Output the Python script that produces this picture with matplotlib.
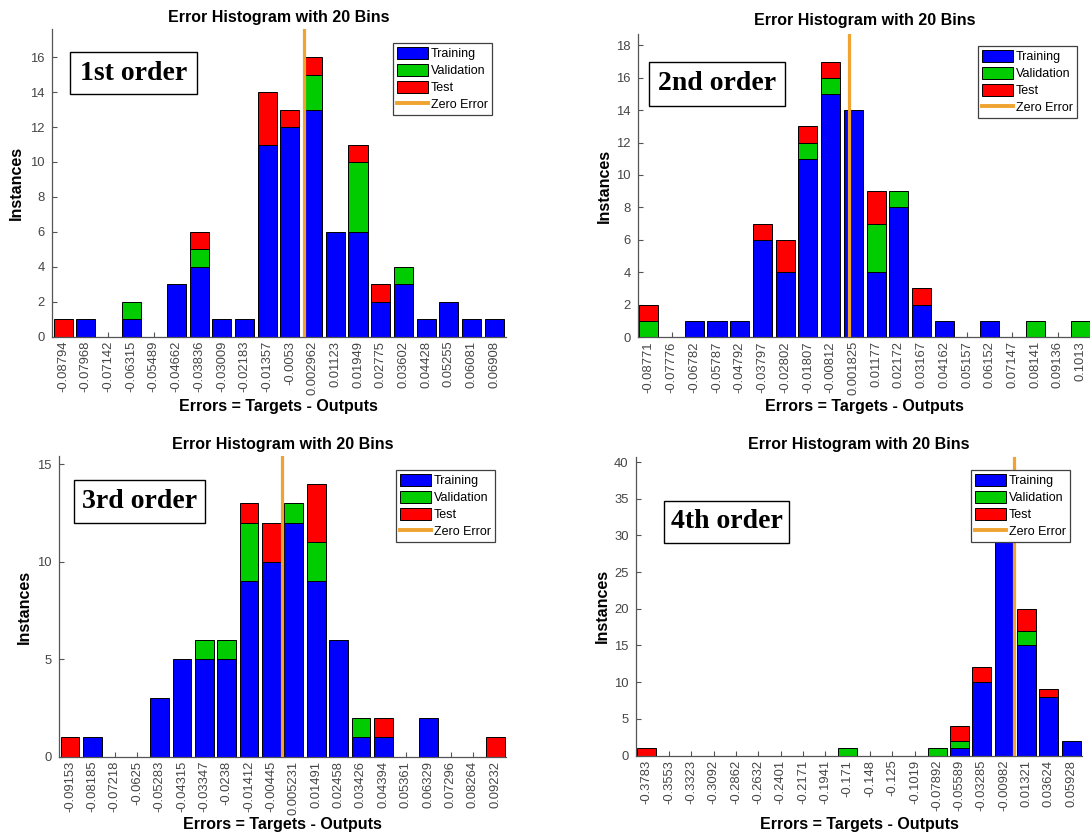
import matplotlib
matplotlib.use('Agg')
import matplotlib.pyplot as plt
from matplotlib.patches import Patch, Rectangle
from matplotlib.lines import Line2D
import numpy as np

plt.rcParams['font.family'] = ['Liberation Sans', 'DejaVu Sans']

# ---------------- data ----------------
p1_labels = ['-0.08794', '-0.07968', '-0.07142', '-0.06315', '-0.05489', '-0.04662', '-0.03836',
             '-0.03009', '-0.02183', '-0.01357', '-0.0053', '0.002962', '0.01123', '0.01949',
             '0.02775', '0.03602', '0.04428', '0.05255', '0.06081', '0.06908']
p1_train = [0, 1, 0, 1, 0, 3, 4, 1, 1, 11, 12, 13, 6, 6, 2, 3, 1, 2, 1, 1]
p1_val   = [0, 0, 0, 1, 0, 0, 1, 0, 0, 0, 0, 2, 0, 4, 0, 1, 0, 0, 0, 0]
p1_test  = [1, 0, 0, 0, 0, 0, 1, 0, 0, 3, 1, 1, 0, 1, 1, 0, 0, 0, 0, 0]

p2_labels = ['-0.08771', '-0.07776', '-0.06782', '-0.05787', '-0.04792', '-0.03797', '-0.02802',
             '-0.01807', '-0.00812', '0.001825', '0.01177', '0.02172', '0.03167', '0.04162',
             '0.05157', '0.06152', '0.07147', '0.08141', '0.09136', '0.1013']
p2_train = [0, 0, 1, 1, 1, 6, 4, 11, 15, 14, 4, 8, 2, 1, 0, 1, 0, 0, 0, 0]
p2_val   = [1, 0, 0, 0, 0, 0, 0, 1, 1, 0, 3, 1, 0, 0, 0, 0, 0, 1, 0, 1]
p2_test  = [1, 0, 0, 0, 0, 1, 2, 1, 1, 0, 2, 0, 1, 0, 0, 0, 0, 0, 0, 0]

p3_labels = ['-0.09153', '-0.08185', '-0.07218', '-0.0625', '-0.05283', '-0.04315', '-0.03347',
             '-0.0238', '-0.01412', '-0.00445', '0.005231', '0.01491', '0.02458', '0.03426',
             '0.04394', '0.05361', '0.06329', '0.07296', '0.08264', '0.09232']
p3_train = [0, 1, 0, 0, 3, 5, 5, 5, 9, 10, 12, 9, 6, 1, 1, 0, 2, 0, 0, 0]
p3_val   = [0, 0, 0, 0, 0, 0, 1, 1, 3, 0, 1, 2, 0, 1, 0, 0, 0, 0, 0, 0]
p3_test  = [1, 0, 0, 0, 0, 0, 0, 0, 1, 2, 0, 3, 0, 0, 1, 0, 0, 0, 0, 1]

p4_labels = ['-0.3783', '-0.3553', '-0.3323', '-0.3092', '-0.2862', '-0.2632', '-0.2401',
             '-0.2171', '-0.1941', '-0.171', '-0.148', '-0.125', '-0.1019', '-0.07892',
             '-0.05589', '-0.03285', '-0.00982', '0.01321', '0.03624', '0.05928']
p4_train = [0, 0, 0, 0, 0, 0, 0, 0, 0, 0, 0, 0, 0, 0, 1, 10, 32, 15, 8, 2]
p4_val   = [0, 0, 0, 0, 0, 0, 0, 0, 0, 1, 0, 0, 0, 1, 1, 0, 2, 2, 0, 0]
p4_test  = [1, 0, 0, 0, 0, 0, 0, 0, 0, 0, 0, 0, 0, 0, 2, 2, 3, 3, 1, 0]

series_names = ['Training', 'Validation', 'Test', 'Zero Error']
order_names = ['1st order', '2nd order', '3rd order', '4th order']
title_text = 'Error Histogram with 20 Bins'
xlabel_text = 'Errors = Targets - Outputs'
ylabel_text = 'Instances'

# ---------------- style ----------------
W, H = 1090, 836
BLUE, GREEN, RED = '#0000ff', '#00cc00', '#ff0000'
ORANGE = '#f0a330'
TICKC = '#454545'

fig = plt.figure(figsize=(W / 100, H / 100), dpi=100)
fig.patch.set_facecolor('white')

panels = [
    dict(lab=p1_labels, tr=p1_train, va=p1_val, te=p1_test, name=order_names[0], ystep=2,
         rect=(51.7, 29.3, 505.5, 336.5), box=(70, 52, 197, 94), leg=(393, 43),
         tpad=5.5, ylx=16, xly=406),
    dict(lab=p2_labels, tr=p2_train, va=p2_val, te=p2_test, name=order_names[1], ystep=2,
         rect=(637.5, 34, 1092, 337), box=(649, 62, 785, 106), leg=(978, 46),
         tpad=6.5, ylx=604, xly=407),
    dict(lab=p3_labels, tr=p3_train, va=p3_val, te=p3_test, name=order_names[2], ystep=5,
         rect=(58.8, 456.3, 506.5, 756.6), box=(74, 480, 205, 523), leg=(396, 470),
         tpad=5.3, ylx=24, xly=825),
    dict(lab=p4_labels, tr=p4_train, va=p4_val, te=p4_test, name=order_names[3], ystep=5,
         rect=(635.6, 457, 1082.4, 755.5), box=(664, 501, 789, 543), leg=(971, 470),
         tpad=5.8, ylx=602, xly=825),
]

for p in panels:
    l, t, r, b = p['rect']
    ax = fig.add_axes([l / W, 1 - b / H, (r - l) / W, (b - t) / H])
    centers = np.array([float(s) for s in p['lab']])
    d = np.mean(np.diff(centers))
    tr = np.array(p['tr'], float)
    va = np.array(p['va'], float)
    te = np.array(p['te'], float)
    bw = 0.84 * d
    for vals, bottom, col in [(tr, np.zeros_like(tr), BLUE), (va, tr, GREEN), (te, tr + va, RED)]:
        m = vals > 0
        ax.bar(centers[m], vals[m], bottom=bottom[m], width=bw, color=col,
               edgecolor='black', linewidth=0.7, zorder=2)
    ax.axvline(0, color=ORANGE, lw=2.3, zorder=3)
    total = tr + va + te
    ymax = 1.1 * total.max()
    ax.set_xlim(centers[0] - d / 2, centers[-1] + d / 2)
    ax.set_ylim(0, ymax)
    ax.set_xticks(centers)
    ax.set_xticklabels(p['lab'], rotation=90)
    ax.set_yticks(np.arange(0, ymax + 1e-9, p['ystep']))
    for s in ['top', 'right']:
        ax.spines[s].set_visible(False)
    for s in ['left', 'bottom']:
        ax.spines[s].set_color('#555555')
        ax.spines[s].set_linewidth(0.9)
    ax.tick_params(direction='in', length=3.5, width=0.8, colors='#555555',
                   labelcolor=TICKC, labelsize=9.4)
    ax.tick_params(axis='x', pad=3)
    ax.tick_params(axis='y', pad=5)

    ax.set_title(title_text, fontsize=11.5, fontweight='bold', pad=p['tpad'])
    ax.set_xlabel(xlabel_text, fontsize=11.5, fontweight='bold')
    ax.xaxis.set_label_coords(0.5, (b - p['xly']) / (b - t))
    ax.xaxis.label.set_va('center')
    ax.set_ylabel(ylabel_text, fontsize=11.5, fontweight='bold')
    ax.yaxis.set_label_coords((p['ylx'] - l) / (r - l), 0.5)
    ax.yaxis.label.set_va('center')
    ax.yaxis.label.set_ha('center')

    handles = [Patch(facecolor=BLUE, edgecolor='black', linewidth=0.7),
               Patch(facecolor=GREEN, edgecolor='black', linewidth=0.7),
               Patch(facecolor=RED, edgecolor='black', linewidth=0.7),
               Line2D([], [], color=ORANGE, lw=2.8)]
    lx, ly = p['leg']
    leg = ax.legend(handles, series_names, loc='upper left',
                    bbox_to_anchor=(lx / W, 1 - ly / H), bbox_transform=fig.transFigure,
                    fontsize=9, frameon=True, fancybox=False, edgecolor='#404040',
                    framealpha=1, handlelength=2.5, handleheight=1.1, handletextpad=0.25,
                    labelspacing=0.3, borderpad=0.3, borderaxespad=0)
    leg.get_frame().set_linewidth(0.9)
    leg.set_zorder(10)

    bx0, by0, bx1, by1 = p['box']
    fig.patches.append(Rectangle((bx0 / W, 1 - by1 / H), (bx1 - bx0) / W, (by1 - by0) / H,
                                 transform=fig.transFigure, facecolor='white',
                                 edgecolor='black', linewidth=1.0, zorder=5))
    fig.text((bx0 + bx1) / 2 / W, 1 - (by0 + by1) / 2 / H, p['name'],
             ha='center', va='center', fontsize=20, fontweight='bold',
             family=['Liberation Serif', 'DejaVu Serif'], zorder=6)

fig.savefig('out.png', dpi=100, facecolor='white')
